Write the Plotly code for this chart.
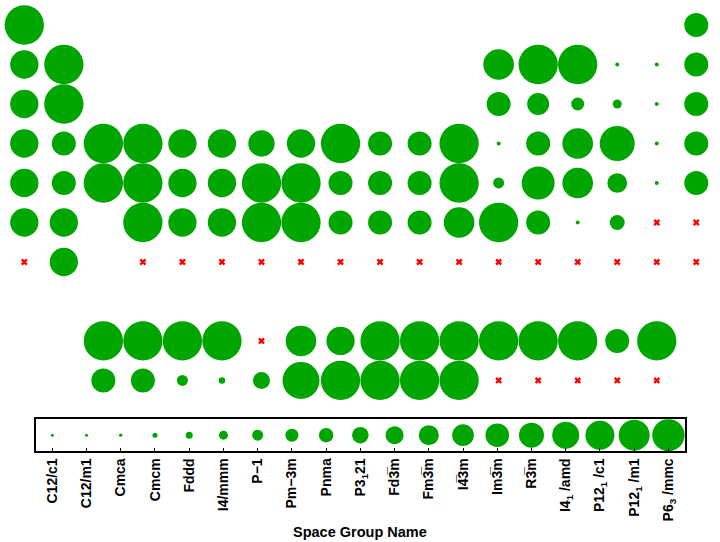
import plotly.graph_objects as go

# Space groups (legend order) and their displayed labels
GROUP_NAMES = ["C12/c1", "C12/m1", "Cmca", "Cmcm", "Fddd", "I4/mmm", "P-1", "Pm-3m",
               "Pnma", "P3_121", "Fd-3m", "Fm-3m", "I-43m", "Im-3m", "R-3m",
               "I4_1/amd", "P12_1/c1", "P12_1/m1", "P6_3/mmc"]
GROUP_LABELS = ["C12/c1", "C12/m1", "Cmca", "Cmcm", "Fddd", "I4/mmm", "P\u22121", "Pm\u22123m",
                "Pnma", "P3<sub>1</sub>21", "Fd3\u0305m", "Fm3\u0305m", "I4\u03053m", "Im3\u0305m",
                "R3\u0305m", "I4<sub>1</sub> /amd", "P12<sub>1</sub> /c1", "P12<sub>1</sub> /m1",
                "P6<sub>3</sub> /mmc"]
# marker diameters (px) for each space group: in the table and in the key strip
GRID_SIZES = [4, 4, 4, 6.5, 9, 11, 13, 15, 17, 19.7, 22, 24, 26.3, 28.3, 30.6, 33, 35, 37, 39.3]
KEY_SIZES = [3, 3, 3.3, 5, 7, 9, 11, 13, 14.5, 16.5, 18, 20, 21.7, 23.5, 25, 27, 29, 31, 32.3]

# periodic table layout (period row -> symbols per group column, "." = empty)
TABLE_ROWS = {
    1: "H . . . . . . . . . . . . . . . . He",
    2: "Li Be . . . . . . . . . . B C N O F Ne",
    3: "Na Mg . . . . . . . . . . Al Si P S Cl Ar",
    4: "K Ca Sc Ti V Cr Mn Fe Co Ni Cu Zn Ga Ge As Se Br Kr",
    5: "Rb Sr Y Zr Nb Mo Tc Ru Rh Pd Ag Cd In Sn Sb Te I Xe",
    6: "Cs Ba . Hf Ta W Re Os Ir Pt Au Hg Tl Pb Bi Po At Rn",
    7: "Fr Ra . Rf Db Sg Bh Hs Mt Ds Rg Cn Nh Fl Mc Lv Ts Og",
    9: ". . La Ce Pr Nd Pm Sm Eu Gd Tb Dy Ho Er Tm Yb Lu .",
    10: ". . Ac Th Pa U Np Pu Am Cm Bk Cf Es Fm Md No Lr .",
}

# ground-state space group of each element (None = no data)
SPACE_GROUP = {
    "H": "P6_3/mmc", "He": "Fm-3m",
    "Li": "Im-3m", "Be": "P6_3/mmc", "B": "R-3m", "C": "P6_3/mmc", "N": "P6_3/mmc",
    "O": "C12/m1", "F": "C12/c1", "Ne": "Fm-3m",
    "Na": "Im-3m", "Mg": "P6_3/mmc", "Al": "Fm-3m", "Si": "Fd-3m", "P": "P-1", "S": "Fddd",
    "Cl": "Cmca", "Ar": "Fm-3m",
    "K": "Im-3m", "Ca": "Fm-3m", "Sc": "P6_3/mmc", "Ti": "P6_3/mmc", "V": "Im-3m",
    "Cr": "Im-3m", "Mn": "I-43m", "Fe": "Im-3m", "Co": "P6_3/mmc", "Ni": "Fm-3m",
    "Cu": "Fm-3m", "Zn": "P6_3/mmc", "Ga": "Cmca", "Ge": "Fm-3m", "As": "R-3m",
    "Se": "P12_1/c1", "Br": "Cmca", "Kr": "Fm-3m",
    "Rb": "Im-3m", "Sr": "Fm-3m", "Y": "P6_3/mmc", "Zr": "P6_3/mmc", "Nb": "Im-3m",
    "Mo": "Im-3m", "Tc": "P6_3/mmc", "Ru": "P6_3/mmc", "Rh": "Fm-3m", "Pd": "Fm-3m",
    "Ag": "Fm-3m", "Cd": "P6_3/mmc", "In": "I4/mmm", "Sn": "I4_1/amd", "Sb": "R-3m",
    "Te": "P3_121", "I": "Cmca", "Xe": "Fm-3m",
    "Cs": "Im-3m", "Ba": "Im-3m", "Hf": "P6_3/mmc", "Ta": "Im-3m", "W": "Im-3m",
    "Re": "P6_3/mmc", "Os": "P6_3/mmc", "Ir": "Fm-3m", "Pt": "Fm-3m", "Au": "Fm-3m",
    "Hg": "R-3m", "Tl": "P6_3/mmc", "Pb": "Fm-3m", "Bi": "C12/m1", "Po": "Pm-3m",
    "At": None, "Rn": None,
    "Fr": None, "Ra": "Im-3m",
    "Rf": None, "Db": None, "Sg": None, "Bh": None, "Hs": None, "Mt": None, "Ds": None,
    "Rg": None, "Cn": None, "Nh": None, "Fl": None, "Mc": None, "Lv": None, "Ts": None,
    "Og": None,
    "La": "P6_3/mmc", "Ce": "P6_3/mmc", "Pr": "P6_3/mmc", "Nd": "P6_3/mmc", "Pm": None,
    "Sm": "R-3m", "Eu": "Im-3m", "Gd": "P6_3/mmc", "Tb": "P6_3/mmc", "Dy": "P6_3/mmc",
    "Ho": "P6_3/mmc", "Er": "P6_3/mmc", "Tm": "P6_3/mmc", "Yb": "Fm-3m", "Lu": "P6_3/mmc",
    "Ac": "Fm-3m", "Th": "Fm-3m", "Pa": "I4/mmm", "U": "Cmcm", "Np": "Pnma",
    "Pu": "P12_1/m1", "Am": "P6_3/mmc", "Cm": "P6_3/mmc", "Bk": "P6_3/mmc", "Cf": "P6_3/mmc",
    "Es": None, "Fm": None, "Md": None, "No": None, "Lr": None,
}

GREEN = "#00a600"
RED = "#ff0000"

gx, gy, gs, gt = [], [], [], []
mx, my, mt = [], [], []
for row, line in TABLE_ROWS.items():
    for col, sym in enumerate(line.split(), start=1):
        if sym == ".":
            continue
        sg = SPACE_GROUP.get(sym)
        if sg is None:
            mx.append(col); my.append(row); mt.append(sym)
        else:
            gx.append(col); gy.append(row)
            gs.append(GRID_SIZES[GROUP_NAMES.index(sg)])
            gt.append(f"{sym}: {sg}")

fig = go.Figure()
fig.add_trace(go.Scatter(x=gx, y=gy, mode="markers", text=gt, hoverinfo="text",
                         marker=dict(size=gs, color=GREEN, opacity=1, line=dict(width=0)),
                         showlegend=False, xaxis="x", yaxis="y"))
fig.add_trace(go.Scatter(x=mx, y=my, mode="markers", text=mt, hoverinfo="text",
                         marker=dict(size=6, color=RED, symbol="x", opacity=1, line=dict(width=0)),
                         showlegend=False, xaxis="x", yaxis="y"))
fig.add_trace(go.Scatter(x=list(range(len(GROUP_NAMES))), y=[0] * len(GROUP_NAMES),
                         mode="markers", text=GROUP_NAMES, hoverinfo="text",
                         marker=dict(size=KEY_SIZES, color=GREEN, opacity=1, line=dict(width=0)),
                         showlegend=False, xaxis="x2", yaxis="y2"))

W, H = 720, 542
key_left, key_right, key_top, key_bottom = 35.7, 685.0, 419.3, 451.0

fig.update_layout(
    width=W, height=H,
    margin=dict(l=0, r=0, t=0, b=0),
    paper_bgcolor="white", plot_bgcolor="white",
    font=dict(family="Liberation Sans, Arial, sans-serif", color="black"),
    xaxis=dict(domain=[0, 1], range=[0.385, 18.6], visible=False, fixedrange=True),
    yaxis=dict(domain=[0, 1], range=[14.09, 0.367], visible=False, fixedrange=True),
    xaxis2=dict(domain=[key_left / W, key_right / W], anchor="y2",
                range=[-0.485, len(GROUP_NAMES) - 1 + 0.485],
                tickvals=list(range(len(GROUP_NAMES))),
                ticktext=[f"<b>{t}</b>" for t in GROUP_LABELS],
                tickangle=-90, ticks="inside", ticklen=3, tickcolor="black",
                tickfont=dict(size=14, color="black"),
                showline=True, mirror=True, linecolor="black", linewidth=1.5,
                showgrid=False, zeroline=False, fixedrange=True),
    yaxis2=dict(domain=[(H - key_bottom) / H, (H - key_top) / H], anchor="x2",
                range=[-1, 1], showticklabels=False, ticks="",
                showline=True, mirror=True, linecolor="black", linewidth=1.5,
                showgrid=False, zeroline=False, fixedrange=True),
    annotations=[dict(text="<b>Space Group Name</b>", x=0.5, y=(H - 531.5) / H,
                      xref="paper", yref="paper", xanchor="center", yanchor="middle",
                      showarrow=False, font=dict(size=14.5, color="black"))],
)

fig.write_html("out.html")
